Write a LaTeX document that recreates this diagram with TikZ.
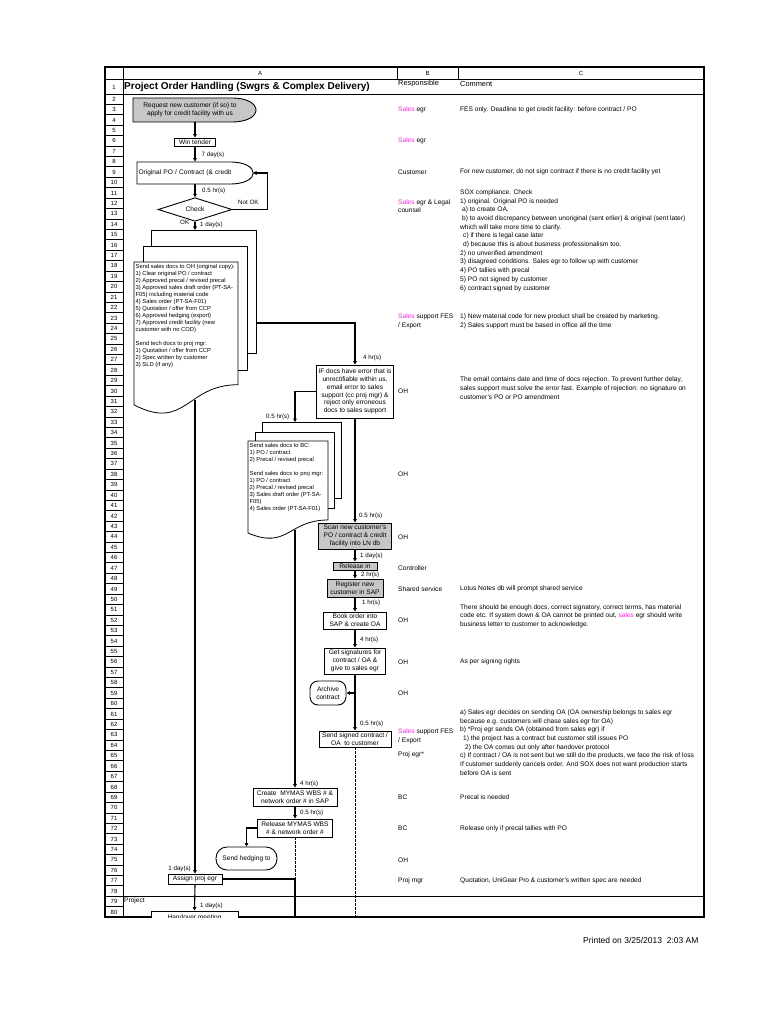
\documentclass[tikz,border=0pt]{standalone}
\usepackage{fontspec}
\setmainfont{Liberation Sans}
\usepackage{xcolor}
\usepackage{tikz}
\usetikzlibrary{arrows.meta,calc,positioning,shapes.geometric}

\definecolor{salespink}{RGB}{240,40,220}
\newcommand{\sales}[1]{\textcolor{salespink}{#1}}

\begin{document}
\begin{tikzpicture}[
  x=1pt,y=-1pt,
  box/.style={draw,line width=0.9pt,fill=white,inner sep=0pt,align=center,font=\fontsize{6.6}{7.8}\selectfont},
  greybox/.style={box,fill=black!22},
  arrow/.style={-{Triangle[length=3.5pt,width=3.6pt]},line width=1.1pt},
  flow/.style={line width=1.1pt},
  dashline/.style={line width=1pt,dash pattern=on 2.5pt off 1.5pt},
  sheet/.style={draw,fill=white,line width=0.8pt},
  lbl/.style={font=\fontsize{6.2}{7}\selectfont,inner sep=0pt,anchor=west},
  cell/.style={font=\fontsize{6.6}{8.7}\selectfont,inner sep=0pt,anchor=west,align=left},
  headcell/.style={cell,font=\fontsize{7.4}{8.7}\selectfont},
  docs/.style={font=\fontsize{5.8}{7}\selectfont,inner sep=0pt,anchor=north west,align=left},
  rowcell/.style={draw,line width=0.9pt},
  rownum/.style={font=\fontsize{6}{7}\selectfont,inner sep=0pt}
]
\useasboundingbox (0,0) rectangle (768,1024);

% sheet frame
\draw[line width=0.8pt] (123,79) -- (704,79);
\draw[line width=0.8pt] (123,94) -- (704,94);
\draw[line width=0.8pt] (123,896) -- (704,896);
\draw[line width=0.8pt] (397,67) -- (397,79) (458,67) -- (458,79);
\draw[line width=1.4pt] (105,67) rectangle (704,917);
\draw[rowcell] (105,67) rectangle (123,79);
\draw[rowcell] (105,79) rectangle (123,94);
\node[rownum] (row1) at (114,87) {1};
\foreach \r in {2,...,80}{
  \pgfmathsetmacro{\yt}{94+(\r-2)*10.42}
  \draw[rowcell] (105,\yt) rectangle (123,\yt+10.42);
  \node[rownum] (row\r) at (114,\yt+5.21) {\r};
}
\node[rownum] (colA) at (260,73) {A};
\node[rownum] (colB) at (427.5,73) {B};
\node[rownum] (colC) at (581,73) {C};

\node[inner sep=0pt,anchor=west,font=\fontsize{10}{11}\selectfont\bfseries] (title) at (124,86.5)
  {Project Order Handling (Swgrs \& Complex Delivery)};

% responsible / comment columns
\node[headcell] (respH) at (398,84) {Responsible};
\node[headcell] (commH) at (460,84) {Comment};
\node[cell] (resp3) at (398,109.6) {\sales{Sales} egr};
\node[cell] (note3) at (460,109.6) {FES only. Deadline to get credit facility: before contract / PO};
\node[cell] (resp6) at (398,140.9) {\sales{Sales} egr};
\node[cell] (resp9) at (398,172.1) {Customer};
\node[cell] (note9) at (460,172.1) {For new customer, do not sign contract if there is no credit facility yet};
\node[cell] (resp12) at (398,206) {\sales{Sales} egr \& Legal\\counsel};
\node[cell] (note11) at (460,240.5) {SOX compliance. Check\\
  1) original. Original PO is needed\\
  \hspace*{2pt}a) to create OA.\\
  \hspace*{2pt}b) to avoid discrepancy between unoriginal (sent erlier) \& original (sent later)\\
  which will take more time to clarify.\\
  \hspace*{3pt}c) if there is legal case later\\
  \hspace*{3pt}d) because this is about business professionalism too.\\
  2) no unverified amendment\\
  3) disagreed conditions. Sales egr to follow up with customer\\
  4) PO tallies with precal\\
  5) PO not signed by customer\\
  6) contract signed by customer};
\node[cell] (resp23) at (398,321.5) {\sales{Sales} support FES\\/ Export};
\node[cell] (note23) at (460,321.5) {1) New material code for new product shall be created by marketing.\\
  2) Sales support must be based in office all the time};
\node[cell] (resp30) at (398,390.8) {OH};
\node[cell] (note29) at (460,388) {The email contains date and time of docs rejection. To prevent further delay,\\
  sales support must solve the error fast. Example of rejection: no signature on\\
  customer's PO or PO amendment};
\node[cell] (resp38) at (398,474.3) {OH};
\node[cell] (resp44) at (398,536.8) {OH};
\node[cell] (resp47) at (398,568.1) {Controller};
\node[cell] (resp49) at (398,589) {Shared service};
\node[cell] (note49) at (460,589) {Lotus Notes db will prompt shared service};
\node[cell] (resp52) at (398,620.4) {OH};
\node[cell] (note51) at (460,616) {There should be enough docs, correct signatory, correct terms, has material\\
  code etc. If system down \& OA cannot be printed out, \sales{sales} egr should write\\
  business letter to customer to acknowledge.};
\node[cell] (resp56) at (398,661.9) {OH};
\node[cell] (note56) at (460,661.9) {As per signing rights};
\node[cell] (resp59) at (398,693.1) {OH};
\node[cell] (resp63) at (398,736) {\sales{Sales} support FES\\/ Export};
\node[cell] (resp65) at (398,755) {Proj egr*};
\node[cell] (note61) at (460,742.5) {a) Sales egr decides on sending OA (OA ownership belongs to sales egr\\
  because e.g. customers will chase sales egr for OA)\\
  b) *Proj egr sends OA (obtained from sales egr) if\\
  \hspace*{3pt}1) the project has a contract but customer still issues PO\\
  \hspace*{5pt}2) the OA comes out only after handover protocol\\
  c) If contract / OA is not sent but we still do the products, we face the risk of loss\\
  If customer suddenly cancels order. And SOX does not want production starts\\
  before OA is sent};
\node[cell] (resp69) at (398,797.2) {BC};
\node[cell] (note69) at (460,797.2) {Precal is needed};
\node[cell] (resp72) at (398,828.6) {BC};
\node[cell] (note72) at (460,828.6) {Release only if precal tallies with PO};
\node[cell] (resp75) at (398,859.9) {OH};
\node[cell] (resp77) at (398,880.7) {Proj mgr};
\node[cell] (note77) at (460,880.7) {Quotation, UniGear Pro \& customer's written spec are needed};
\node[cell] (phase79) at (124,900.5) {Project};

% flow: start
\draw[line width=0.9pt,fill=black!22] (133,98) -- (232,98) .. controls (264,98) and (264,122) .. (232,122) -- (133,122) -- cycle;
\node[box,draw=none,fill=none,minimum width=114pt,minimum height=24pt] (request) at (190,110)
  {Request new customer (if so) to\\apply for credit facility with us};
\node[box,minimum width=41pt,minimum height=8pt] (wintender) at (195,142) {Win tender};
\draw[line width=0.9pt,fill=white] (137,162) -- (230,162) .. controls (261,162) and (261,184) .. (230,184) -- (137,184) -- cycle;
\node[box,draw=none,fill=none,minimum height=22pt,text width=100pt,align=left,inner xsep=1.5pt] (origpo) at (188.5,173)
  {Original PO / Contract (\& credit};
\coordinate (origtip) at (253,173);
\node[draw,diamond,line width=0.9pt,fill=white,inner sep=0pt,minimum width=74pt,minimum height=17pt,
  font=\fontsize{6.6}{7.8}\selectfont] (check) at (195,209.5) {Check};

% documents to OH
\draw[sheet] (151,230) rectangle (256,353);
\draw[sheet] (143,246) rectangle (247,370);
\draw[sheet] (134,262) -- (238,262) -- (238,384.7) .. controls (186,384.7) and (186,431.5) .. (134,404.9) -- cycle;
\node[docs] (ohdocs) at (135.5,263.8) {Send sales docs to OH (original copy):\\
  1) Clear original PO / contract\\
  2) Approved precal / revised precal\\
  3) Approved sales draft order (PT-SA-\\
  F05) including material code\\
  4) Sales order (PT-SA-F01)\\
  5) Quotation / offer from CCP\\
  6) Approved hedging (export)\\
  7) Approved credit facility (new\\
  customer with no COD)\\[7pt]
  Send tech docs to proj mgr:\\
  1) Quotation / offer from CCP\\
  2) Spec written by customer\\
  3) SLD (if any)};
\coordinate (ohdocstop) at (195,230);
\coordinate (ohdocsside) at (256,323);
\coordinate (ohdocsout) at (195,399.5);

\node[box,minimum width=77pt,minimum height=53pt] (ifdocs) at (355,391.5)
  {IF docs have error that is\\unrectifiable within us,\\email error to sales\\support (cc proj mgr) \&\\reject only erroneous\\docs to sales support};

% documents to BC
\draw[sheet] (262,422) rectangle (341,498);
\draw[sheet] (255,432) rectangle (334,508);
\draw[sheet] (248,441) -- (328,441) -- (328,520) .. controls (288,520) and (288,550) .. (248,533) -- cycle;
\node[docs] (bcdocs) at (249.5,443) {Send sales docs to BC:\\
  1) PO / contract\\
  2) Precal / revised precal\\[6.8pt]
  Send sales docs to proj mgr:\\
  1) PO / contract\\
  2) Precal / revised precal\\
  3) Sales draft order (PT-SA-\\
  F05)\\
  4) Sales order (PT-SA-F01)};
\coordinate (bcdocstop) at (295,422);
\coordinate (bcdocsout) at (295,529.5);

\node[greybox,minimum width=73pt,minimum height=26pt] (scan) at (355,536) {Scan new customer's\\PO / contract \& credit\\facility into LN db};
\node[greybox,minimum width=44pt,minimum height=8pt] (release) at (355,566) {Release in};
\node[greybox,minimum width=56pt,minimum height=18pt] (register) at (355,588) {Register new\\customer in SAP};
\node[box,minimum width=63pt,minimum height=17pt] (bookorder) at (355,620.5) {Book order into\\SAP \& create OA};
\node[box,minimum width=61pt,minimum height=26pt] (getsig) at (355,661) {Get signatures for\\contract / OA \&\\give to sales egr};
\node[box,rounded corners=8pt,minimum width=36pt,minimum height=24pt] (archive) at (328,693) {Archive\\contract};
\node[box,minimum width=72pt,minimum height=16pt] (sendsigned) at (355,739) {Send signed contract /\\OA\ \ to customer};
\coordinate (sentend) at (355,917);

\node[box,minimum width=84pt,minimum height=18pt] (createwbs) at (295,797) {Create\ \ MYMAS WBS \# \&\\network order \# in SAP};
\node[box,minimum width=75pt,minimum height=18pt] (releasewbs) at (295,828) {Release MYMAS WBS\\\# \& network order \#};
\node[box,rounded corners=11pt,minimum width=61pt,minimum height=23pt] (hedging) at (246.5,858.5) {Send hedging to};
\node[box,minimum width=54pt,minimum height=10pt] (assign) at (195,879) {Assign proj egr};
\coordinate (projend) at (295,917);
\begin{scope}
  \clip (105,67) rectangle (704,917);
  \node[box,minimum width=87pt,minimum height=14pt] (handover) at (194.5,918) {Handover meeting};
\end{scope}

% connectors
\draw[arrow] (request.south -| wintender.north) -- (wintender.north);
\draw[arrow] (wintender.south) -- (wintender.south |- origpo.north);
\draw[arrow] (origpo.south -| check.north) -- (check.north);
\draw[arrow] (check.east) -- ++(35,0) |- (origtip);
\draw[arrow] (check.south) -- (ohdocstop);
\draw[arrow] (ohdocsside) -| (ifdocs.north);
\draw[arrow] (ifdocs.west) -| (bcdocstop);
\draw[arrow] (ifdocs.south) -- (scan.north);
\draw[arrow] (scan.south) -- (release.north);
\draw[arrow] (release.south) -- (register.north);
\draw[arrow] (register.south) -- (bookorder.north);
\draw[arrow] (bookorder.south) -- (getsig.north);
\draw[arrow] (getsig.south) -- (sendsigned.north);
\draw[arrow] (archive.east -| getsig.south) -- (archive.east);
\draw[dashline] (sendsigned.south) -- (sentend);
\draw[arrow] (ohdocsout) -- (assign.north);
\draw[arrow] (bcdocsout) -- (createwbs.north);
\draw[arrow] (createwbs.south) -- (releasewbs.north);
\draw[arrow] (releasewbs.west) -| (hedging.north);
\draw[dashline] (releasewbs.south) -- (releasewbs.south |- assign.east);
\draw[flow] (assign.east) -| (projend);
\draw[arrow] (assign.south) -- (handover.north);

% durations
\node[lbl] (t1) at (201.5,155) {7 day(s)};
\node[lbl] (t2) at (202,191) {0.5 hr(s)};
\node[lbl] (tnok) at (238,202.5) {Not OK};
\node[lbl] (tok) at (180,222) {OK};
\node[lbl] (t3) at (200,224.5) {1 day(s)};
\node[lbl] (t4) at (363,358) {4 hr(s)};
\node[lbl] (t5) at (266,417) {0.5 hr(s)};
\node[lbl] (t6) at (359,515.5) {0.5 hr(s)};
\node[lbl] (t7) at (360,556) {1 day(s)};
\node[lbl] (t8) at (361,575) {2 hr(s)};
\node[lbl] (t9) at (362,603) {1 hr(s)};
\node[lbl] (t10) at (360,640) {4 hr(s)};
\node[lbl] (t11) at (360,724) {0.5 hr(s)};
\node[lbl] (t12) at (300,784) {4 hr(s)};
\node[lbl] (t13) at (300,813) {0.5 hr(s)};
\node[lbl,anchor=east] (t14) at (191,869) {1 day(s)};
\node[lbl] (t15) at (200,906) {1 day(s)};

\node[inner sep=0pt,anchor=west,font=\fontsize{8.5}{9}\selectfont] (printed) at (583,940) {Printed on 3/25/2013\ \ 2:03 AM};
\end{tikzpicture}
\end{document}
